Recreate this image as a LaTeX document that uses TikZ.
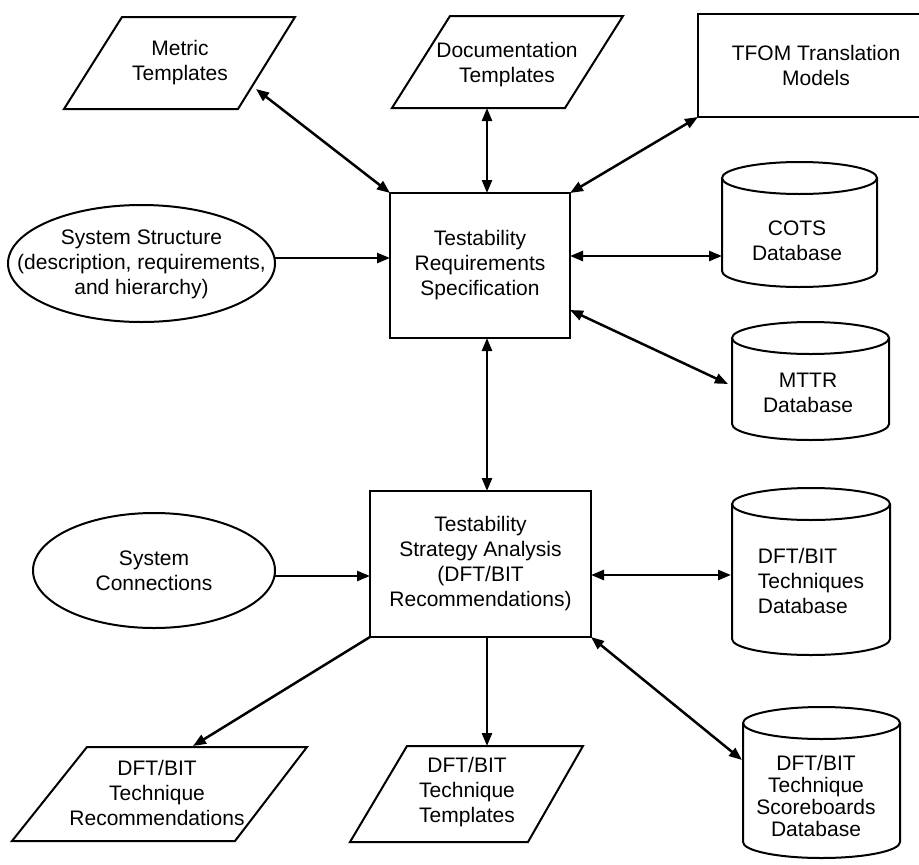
\documentclass[tikz,border=0pt]{standalone}
\usepackage{fontspec}
\setmainfont{Liberation Sans}
\usetikzlibrary{arrows.meta}

% database cylinder: #1 left, #2 right, #3 top, #4 bottom, #5 cap radius
\newcommand{\dbdrum}[5]{%
  \draw[outline] (#1,#3+#5) -- (#1,#4-#5)
    arc[start angle=180,end angle=0,x radius={(#2-#1)/2},y radius=#5]
    -- (#2,#3+#5);
  \draw[outline] ({(#1+#2)/2},#3+#5) ellipse[x radius={(#2-#1)/2},y radius=#5];
}

\begin{document}
\begin{tikzpicture}[x=1pt,y=-1pt,
  font=\fontsize{21}{25}\selectfont,
  outline/.style={draw=black,line width=2pt,line join=miter},
  tip/.tip={Triangle[length=13pt,width=10pt]},
  link/.style={line width=2.5pt,-tip},
  dlink/.style={line width=2.5pt,tip-tip},
  label/.style={align=center,inner sep=0pt},
  rectbox/.style={outline,rectangle,inner sep=0pt,outer sep=0pt,align=center}
]
\useasboundingbox[fill=white] (0,0) rectangle (919,865);

% ---- central process boxes
\node[rectbox,minimum width=180,minimum height=145] (treq) at (480,265.5)
  {Testability\\Requirements\\Specification};
\node[rectbox,minimum width=221,minimum height=146] (strat) at (480.5,564)
  {Testability\\Strategy Analysis\\(DFT/BIT\\Recommendations)};

% ---- top row
\draw[outline] (122,17) -- (295,17) -- (238,109) -- (64,109) -- cycle;
\node[label] (metric) at (180,63) {Metric\\Templates};
\draw[outline] (450,16) -- (623,16) -- (565,108) -- (392,108) -- cycle;
\node[label] (doc) at (507,65) {Documentation\\Templates};
\node[rectbox,minimum width=236,minimum height=103] (tfom) at (816,65.5)
  {TFOM Translation\\Models};

% ---- inputs
\draw[outline] (141.5,263.5) ellipse[x radius=133.5,y radius=58.5];
\node[label] (sstruct) at (141.5,264)
  {System Structure\\(description, requirements,\\and hierarchy)};
\draw[outline] (154,570.5) ellipse[x radius=121,y radius=57.5];
\node[label] (sconn) at (154,571) {System\\Connections};

% ---- databases
\dbdrum{722}{877}{162}{287}{16}
\node[label] (cots) at (797,241) {COTS\\Database};
\dbdrum{732}{889}{322}{440}{16}
\node[label] (mttr) at (808,393) {MTTR\\Database};
\dbdrum{732}{890}{488}{655}{16}
\node[label,align=left] (dfttech) at (811,581) {DFT/BIT\\Techniques\\Database};
\dbdrum{743}{900}{707}{858}{16}
\node[label,font=\fontsize{21}{22}\selectfont] (score) at (816,796)
  {DFT/BIT\\Technique\\Scoreboards\\Database};

% ---- outputs
\draw[outline] (87,747) -- (307,747) -- (235,841) -- (12,841) -- cycle;
\node[label] (recs) at (157,793) {DFT/BIT\\Technique\\Recommendations};
\draw[outline] (407,746) -- (583,746) -- (528,842) -- (350,842) -- cycle;
\node[label] (tmpl) at (467,792) {DFT/BIT\\Technique\\Templates};

% ---- connector end points on the drawn outlines
\coordinate (metricA) at (256,89);
\coordinate (docA) at (487,108);
\coordinate (sstructE) at (275,258);
\coordinate (cotsW) at (722,256);
\coordinate (treqE) at (570,310);
\coordinate (mttrW) at (728,384);
\coordinate (sconnE) at (275,576);
\coordinate (dftW) at (731,575);
\coordinate (scoreW) at (742,760);
\coordinate (recsN) at (193,746);
\coordinate (tmplN) at (487,746);

% ---- connectors
\draw[dlink] (metricA) -- (treq.north west);
\draw[dlink] (docA) -- (docA |- treq.north);
\draw[dlink] (tfom.south west) -- (treq.north east);
\draw[link] (sstructE) -- (treq.west |- sstructE);
\draw[dlink] (treq.east |- cotsW) -- (cotsW);
\draw[dlink] (treqE) -- (mttrW);
\draw[dlink] (docA |- treq.south) -- (docA |- strat.north);
\draw[link] (sconnE) -- (strat.west |- sconnE);
\draw[dlink] (strat.east |- dftW) -- (dftW);
\draw[dlink] (strat.south east) -- (scoreW);
\draw[link] (strat.south west) -- (recsN);
\draw[link] (docA |- strat.south) -- (tmplN);
\end{tikzpicture}
\end{document}
